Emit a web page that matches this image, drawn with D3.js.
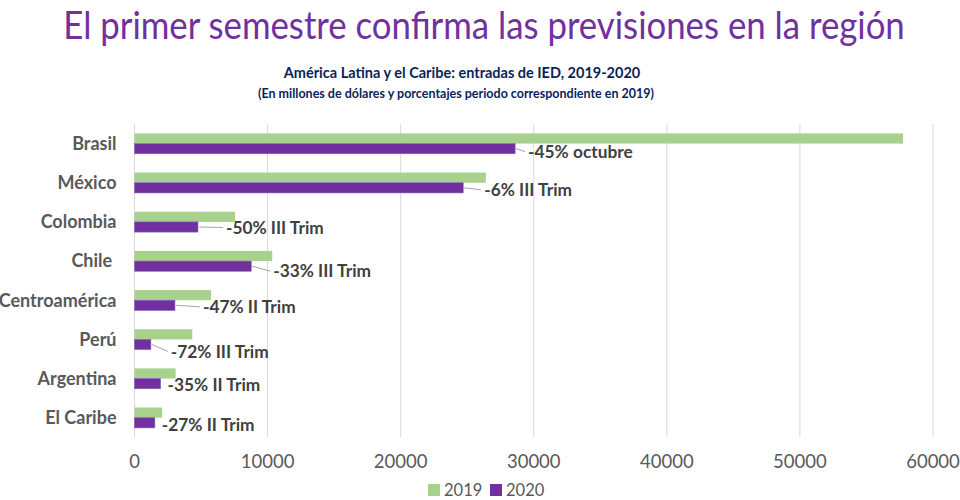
<!DOCTYPE html>
<html lang="es">
<head>
  <meta charset="UTF-8">
  <title>IED 2019-2020</title>
  <script src="https://cdn.jsdelivr.net/npm/d3@7/dist/d3.min.js"></script>
  <style>
    body { margin: 0; background: #fff; }
    svg { font-family: Lato, "Open Sans", sans-serif; }
    .grid line { stroke: #d9d9d9; stroke-width: 1px; }
    .tick-label { fill: #595959; font-size: 18.5px; }
    .legend-label { fill: #595959; font-size: 16.5px; }
    .cat-label { fill: #595959; font-size: 18px; font-weight: bold; white-space: pre; }
    .data-label { fill: #404040; font-size: 17.3px; font-weight: bold; }
    .leader { stroke: #a6a6a6; stroke-width: 1px; fill: none; }
  </style>
</head>
<body>
<div class="chart"></div>
<script>
  // data
  const categories = ['Brasil', 'México', 'Colombia', 'Chile ', 'Centroamérica', 'Perú', 'Argentina', 'El Caribe'];
  const series = ['2019', '2020'];
  const values2019 = [57750, 26400, 7550, 10350, 5750, 4340, 3090, 2080];
  const values2020 = [28600, 24700, 4770, 8770, 3040, 1230, 1960, 1530];
  const labels2020 = ['-45% octubre', '-6% III Trim', '-50% III Trim', '-33% III Trim',
                      '-47% II Trim', '-72% III Trim', '-35% II Trim', '-27% II Trim'];
  const xTicks = [0, 10000, 20000, 30000, 40000, 50000, 60000];

  // where Excel had the labels dragged to (px from bar end / bar centre)
  const labelNudge = [[13, 3], [21, 2], [28, 0.5], [22, 5], [28, 1.5], [20, 7], [7, 1.5], [7, 1.5]];

  const colors = { '2019': '#a9d18e', '2020': '#7030a0' };
  const W = 960, H = 500;

  const svg = d3.select('.chart').append('svg')
    .attr('width', W).attr('height', H);

  // centred text squeezed horizontally to a width (Calibri is narrower than Lato)
  function squeezed(cx, cy, w, txt) {
    const g = svg.append('g');
    const t = g.append('text').attr('text-anchor', 'middle').text(txt);
    return {
      t,
      done() {
        const len = t.node().getComputedTextLength();
        const k = Math.min(1, w / len);
        g.attr('transform', `translate(${cx} ${cy}) scale(${k} 1)`);
      }
    };
  }

  const title = squeezed(484, 39, 842, 'El primer semestre confirma las previsiones en la región');
  title.t.attr('fill', '#7030a0').style('font-size', '38px');
  title.done();

  const sub1 = squeezed(462, 78, 399, 'América Latina y el Caribe: entradas de IED, 2019-2020');
  sub1.t.attr('fill', '#0b1f5c').style('font-size', '14.5px').style('font-weight', 'bold');
  sub1.done();

  const sub2 = squeezed(456, 98, 448, '(En millones de dólares y porcentajes periodo correspondiente en 2019)');
  sub2.t.attr('fill', '#0b1f5c').style('font-size', '12.5px').style('font-weight', 'bold');
  sub2.done();

  const x = d3.scaleLinear().domain([0, 60000]).range([134.5, 933]);
  const y = d3.scaleBand().domain(categories).range([124, 437.3])
    .paddingInner(0.48).paddingOuter(0.24);
  const ySub = d3.scaleBand().domain(series).range([0, y.bandwidth()]);

  // vertical gridlines
  svg.append('g').attr('class', 'grid')
    .selectAll('line').data(xTicks).enter().append('line')
    .attr('x1', d => x(d)).attr('x2', d => x(d))
    .attr('y1', 124).attr('y2', 437.3);

  svg.append('g').selectAll('text').data(xTicks).enter().append('text')
    .attr('class', 'tick-label')
    .attr('x', d => x(d)).attr('y', 468)
    .attr('text-anchor', 'middle')
    .text(d => d);

  // category labels
  svg.append('g').selectAll('text').data(categories).enter().append('text')
    .attr('class', 'cat-label')
    .attr('x', 116.5)
    .attr('y', d => y(d) + y.bandwidth() / 2)
    .attr('dy', '0.35em')
    .attr('text-anchor', 'end')
    .text(d => d);

  const rows = categories.map((c, i) => ({ cat: c, '2019': values2019[i], '2020': values2020[i], label: labels2020[i], nudge: labelNudge[i] }));

  const group = svg.append('g').selectAll('g').data(rows).enter().append('g')
    .attr('transform', d => `translate(0 ${y(d.cat)})`);

  group.selectAll('rect').data(d => series.map(s => ({ s, v: d[s] }))).enter().append('rect')
    .attr('x', x(0))
    .attr('y', d => ySub(d.s))
    .attr('width', d => x(d.v) - x(0))
    .attr('height', ySub.bandwidth())
    .attr('fill', d => colors[d.s])
    .attr('stroke', d => d.s === '2020' ? '#8d5cbc' : 'none')
    .attr('stroke-width', 0.6);

  // data labels on the 2020 bars with leader lines
  const cy = ySub('2020') + ySub.bandwidth() / 2;
  group.filter(d => d.nudge[0] > 10).append('line')
    .attr('class', 'leader')
    .attr('x1', d => x(d['2020']) + 1).attr('y1', cy)
    .attr('x2', d => x(d['2020']) + d.nudge[0] - 3).attr('y2', d => cy + d.nudge[1]);

  group.append('text')
    .attr('class', 'data-label')
    .attr('x', d => x(d['2020']) + d.nudge[0])
    .attr('y', d => cy + d.nudge[1])
    .attr('dy', '0.36em')
    .text(d => d.label);

  // legend
  const legend = svg.append('g').selectAll('g').data(series).enter().append('g')
    .attr('transform', (d, i) => `translate(${428 + i * 62} 484)`);
  legend.append('rect').attr('width', 12).attr('height', 12).attr('fill', d => colors[d]);
  legend.append('text')
    .attr('class', 'legend-label')
    .attr('x', 16).attr('y', 12)
    .text(d => d);
</script>
</body>
</html>
